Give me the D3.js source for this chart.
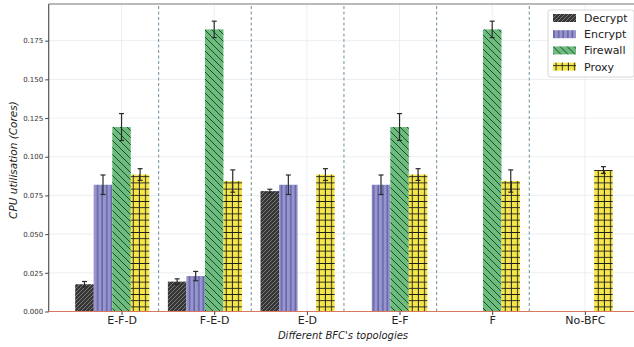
<!DOCTYPE html>
<html>
<head>
<meta charset="utf-8">
<script src="https://cdn.jsdelivr.net/npm/d3@7"></script>
<style>
  body { margin: 0; background: #fff; }
  text { font-family: "DejaVu Sans", sans-serif; }
</style>
</head>
<body>
<div id="chart"></div>
<script>
var topologies = ["E-F-D", "F-E-D", "E-D", "E-F", "F", "No-BFC"];
var seriesNames = ["Decrypt", "Encrypt", "Firewall", "Proxy"];
var decrypt = [0.0176, 0.0193, 0.0778, 0, 0, 0];
var decryptErr = [0.0018, 0.0018, 0.0012, 0, 0, 0];
var encrypt = [0.0819, 0.0229, 0.0819, 0.0819, 0, 0];
var encryptErr = [0.0063, 0.003, 0.0063, 0.0063, 0, 0];
var firewall = [0.1192, 0.1823, 0, 0.1192, 0.1823, 0];
var firewallErr = [0.0087, 0.0053, 0, 0.0087, 0.0053, 0];
var proxy = [0.0885, 0.0843, 0.0885, 0.0885, 0.0843, 0.0914];
var proxyErr = [0.0038, 0.0072, 0.0038, 0.0038, 0.0072, 0.0022];
var yTicks = [0, 0.025, 0.05, 0.075, 0.1, 0.125, 0.15, 0.175];

var values = [decrypt, encrypt, firewall, proxy];
var errors = [decryptErr, encryptErr, firewallErr, proxyErr];
var fills = ["url(#hDecrypt)", "url(#hEncrypt)", "url(#hFirewall)", "url(#hProxy)"];

var width = 634, height = 347;
var barW = 0.2;

var svg = d3.select("#chart").append("svg")
  .attr("width", width)
  .attr("height", height);

// hatch patterns
var defs = svg.append("defs");
function pattern(id, size, bg, draw) {
  var p = defs.append("pattern")
    .attr("id", id)
    .attr("patternUnits", "userSpaceOnUse")
    .attr("width", size)
    .attr("height", size);
  p.append("rect").attr("width", size).attr("height", size).attr("fill", bg);
  draw(p, size);
}
pattern("hDecrypt", 4, "#363636", function(p, s) {
  p.append("path").attr("d", "M0," + s + "L" + s + ",0M-1,1L1,-1M" + (s - 1) + "," + (s + 1) + "L" + (s + 1) + "," + (s - 1))
    .attr("stroke", "#7a7a7a").attr("stroke-width", 1);
});
pattern("hEncrypt", 4.6, "#9a94cc", function(p, s) {
  p.append("line").attr("x1", 1).attr("x2", 1).attr("y1", 0).attr("y2", s)
    .attr("stroke", "#4f58a0").attr("stroke-width", 1.2);
});
pattern("hFirewall", 7, "#6cbd7c", function(p, s) {
  p.append("path").attr("d", "M0,0L" + s + "," + s + "M-1," + (s - 1) + "L1," + (s + 1) + "M" + (s - 1) + ",-1L" + (s + 1) + ",1")
    .attr("stroke", "#23463a").attr("stroke-width", 1);
});
pattern("hProxy", 6.2, "#f5e64a", function(p, s) {
  p.append("path").attr("d", "M0,3H" + s + "M3,0V" + s)
    .attr("stroke", "#1e1e1e").attr("stroke-width", 0.9);
});

var x = d3.scaleLinear().domain([-0.786, 5.53]).range([48.7, 634]);
var y = d3.scaleLinear().domain([0, 0.1987]).range([311.5, 4]);

// grid
svg.append("g").selectAll("line").data(yTicks).join("line")
  .attr("x1", x.range()[0]).attr("x2", x.range()[1])
  .attr("y1", function(d) { return y(d); }).attr("y2", function(d) { return y(d); })
  .attr("stroke", "#e6eaee").attr("stroke-width", 0.8);
svg.append("g").selectAll("line").data(topologies).join("line")
  .attr("x1", function(d, i) { return x(i); }).attr("x2", function(d, i) { return x(i); })
  .attr("y1", y.range()[0]).attr("y2", y.range()[1])
  .attr("stroke", "#e6eaee").attr("stroke-width", 0.8);

// dashed separators between groups
svg.append("g").selectAll("line").data(topologies.slice(0, 5)).join("line")
  .attr("x1", function(d, i) { return x(i + 0.4); }).attr("x2", function(d, i) { return x(i + 0.4); })
  .attr("y1", y.range()[0]).attr("y2", y.range()[1])
  .attr("stroke", "#7d98a8").attr("stroke-width", 1.1)
  .attr("stroke-dasharray", "3,2.5");

// bars
values.forEach(function(vals, k) {
  var g = svg.append("g");
  g.selectAll("rect").data(vals).join("rect")
    .attr("x", function(d, i) { return x(i + (k - 2) * barW - barW / 2); })
    .attr("width", x(barW) - x(0))
    .attr("y", function(d) { return y(d); })
    .attr("height", function(d) { return y(0) - y(d); })
    .attr("fill", fills[k]);
});

// error bars
values.forEach(function(vals, k) {
  var g = svg.append("g").attr("stroke", "#2a2a2a").attr("stroke-width", 1.2);
  vals.forEach(function(v, i) {
    var e = errors[k][i];
    if (v === 0) return;
    var cx = x(i + (k - 2) * barW);
    g.append("line").attr("x1", cx).attr("x2", cx).attr("y1", y(v - e)).attr("y2", y(v + e));
    g.append("line").attr("x1", cx - 2.5).attr("x2", cx + 2.5).attr("y1", y(v - e)).attr("y2", y(v - e));
    g.append("line").attr("x1", cx - 2.5).attr("x2", cx + 2.5).attr("y1", y(v + e)).attr("y2", y(v + e));
  });
});

// spines
svg.append("line").attr("x1", 48.7).attr("x2", 48.7).attr("y1", 4).attr("y2", 311.5)
  .attr("stroke", "#555").attr("stroke-width", 1.2);
svg.append("line").attr("x1", 48.7).attr("x2", 634).attr("y1", 4).attr("y2", 4)
  .attr("stroke", "#777").attr("stroke-width", 1.2);
svg.append("line").attr("x1", 48.7).attr("x2", 634).attr("y1", 311.5).attr("y2", 311.5)
  .attr("stroke", "#d9775f").attr("stroke-width", 1.2);

// axes
var yAxis = svg.append("g").attr("transform", "translate(48.7,0)")
  .call(d3.axisLeft(y).tickValues(yTicks).tickFormat(d3.format(".3f")).tickSize(3.5).tickPadding(2));
yAxis.select(".domain").remove();
yAxis.selectAll("text").style("font-size", "7px").attr("fill", "#333");
yAxis.selectAll("line").attr("stroke", "#444");

var xAxis = svg.append("g").attr("transform", "translate(0,311.5)")
  .call(d3.axisBottom(x).tickValues(d3.range(topologies.length))
    .tickFormat(function(i) { return topologies[i]; }).tickSize(3.5).tickPadding(1.5));
xAxis.select(".domain").remove();
xAxis.selectAll("text").style("font-size", "11px").attr("fill", "#222");
xAxis.selectAll("line").attr("stroke", "#444");

// axis labels
svg.append("text")
  .attr("transform", "translate(17,160) rotate(-90)")
  .attr("text-anchor", "middle")
  .style("font-size", "10.5px").style("font-style", "italic").attr("fill", "#222")
  .text("CPU utilisation (Cores)");
svg.append("text")
  .attr("x", 343).attr("y", 339)
  .attr("text-anchor", "middle")
  .style("font-size", "10px").style("font-style", "italic").attr("fill", "#222")
  .text("Different BFC's topologies");

// legend
var legend = svg.append("g").attr("transform", "translate(548,10)");
legend.append("rect").attr("width", 86).attr("height", 67)
  .attr("fill", "#fff").attr("fill-opacity", 0.85)
  .attr("stroke", "#d8d8d8").attr("rx", 2);
seriesNames.forEach(function(name, k) {
  var row = legend.append("g").attr("transform", "translate(5," + (4 + k * 16.2) + ")");
  row.append("rect").attr("width", 23).attr("height", 8).attr("fill", fills[k]);
  row.append("text").attr("x", 31).attr("y", 8)
    .style("font-size", "11px").attr("fill", "#222").text(name);
});
</script>
</body>
</html>
